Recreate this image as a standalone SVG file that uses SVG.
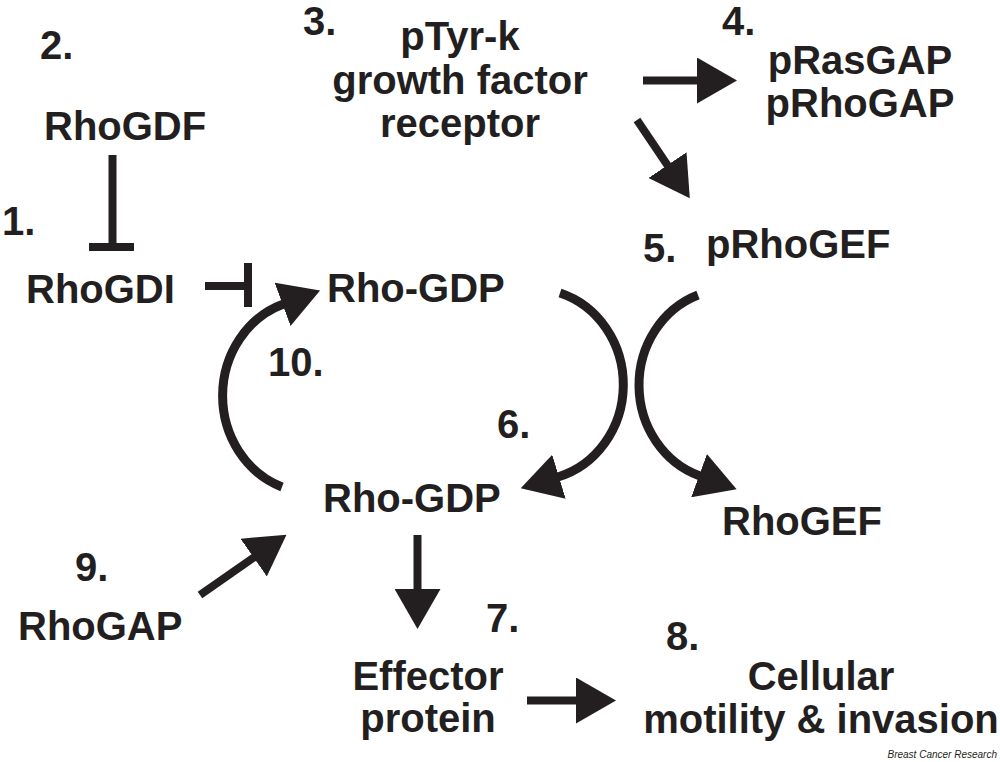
<svg xmlns="http://www.w3.org/2000/svg" width="1000" height="762" viewBox="0 0 1000 762">
<style>
.t{font-family:"Liberation Sans",Arial,sans-serif;font-weight:bold;font-size:40px;fill:#231f20}
.m{text-anchor:middle}
.c{fill:none;stroke:#231f20;stroke-width:8;stroke-linecap:butt}
.a{marker-end:url(#ah)}
.cr{font-family:"Liberation Sans",Arial,sans-serif;font-style:italic;font-size:10px;fill:#231f20;text-anchor:end}
</style>
<defs>
<marker id="ah" viewBox="0 0 40 46" refX="1" refY="23" markerUnits="userSpaceOnUse" markerWidth="40" markerHeight="46" orient="auto">
<path d="M0 0 L40 23 L0 46 Z" fill="#231f20"/>
</marker>
</defs>
<rect width="1000" height="762" fill="#fff"/>
<g id="connectors">
<path class="c" d="M112.5 155 V247 M89 247 H134"/>
<path class="c" d="M205 286 H248 M248 263 V307"/>
<path class="c a" d="M643 80.5 H698"/>
<path class="c a" d="M637 120 L668 166"/>
<path class="c a" style="stroke-width:9" d="M282 487 A90 97 0 0 1 283.5 304"/>
<path class="c a" style="stroke-width:9" d="M560 293 A90 96 0 0 1 558 477"/>
<path class="c a" style="stroke-width:9" d="M698 295 A90 96 0 0 0 700 476"/>
<path class="c a" d="M200 595 L254.5 557"/>
<path class="c a" d="M417.5 535 V590"/>
<path class="c a" d="M527 700.5 H577"/>
</g>
<g id="n1"><text class="t" x="2" y="235">1.</text><text class="t" x="26" y="303">RhoGDI</text></g>
<g id="n2"><text class="t" x="40" y="59">2.</text><text class="t" x="44" y="140">RhoGDF</text></g>
<g id="n3"><text class="t" x="303" y="35">3.</text><text class="t m" x="460" y="50">pTyr-k</text><text class="t m" x="460" y="94">growth factor</text><text class="t m" x="460" y="137">receptor</text></g>
<g id="n4"><text class="t" x="722" y="35">4.</text><text class="t m" x="860" y="74">pRasGAP</text><text class="t m" x="860" y="117">pRhoGAP</text></g>
<g id="n5"><text class="t" x="643" y="262">5.</text><text class="t" x="706" y="258">pRhoGEF</text></g>
<g id="rhogdp1"><text class="t" x="327" y="302">Rho-GDP</text></g>
<g id="n10"><text class="t" x="268" y="376">10.</text></g>
<g id="n6"><text class="t" x="497" y="438">6.</text></g>
<g id="rhogdp2"><text class="t" x="323" y="512">Rho-GDP</text></g>
<g id="rhogef"><text class="t" x="722" y="535">RhoGEF</text></g>
<g id="n9"><text class="t" x="75" y="581">9.</text><text class="t" x="18" y="640">RhoGAP</text></g>
<g id="n7"><text class="t" x="486" y="632">7.</text><text class="t m" x="428" y="690">Effector</text><text class="t m" x="428" y="732">protein</text></g>
<g id="n8"><text class="t" x="666" y="650">8.</text><text class="t m" x="821" y="690">Cellular</text><text class="t m" x="821" y="733">motility &amp; invasion</text></g>
<text class="cr" x="997" y="758">Breast Cancer Research</text>
</svg>
